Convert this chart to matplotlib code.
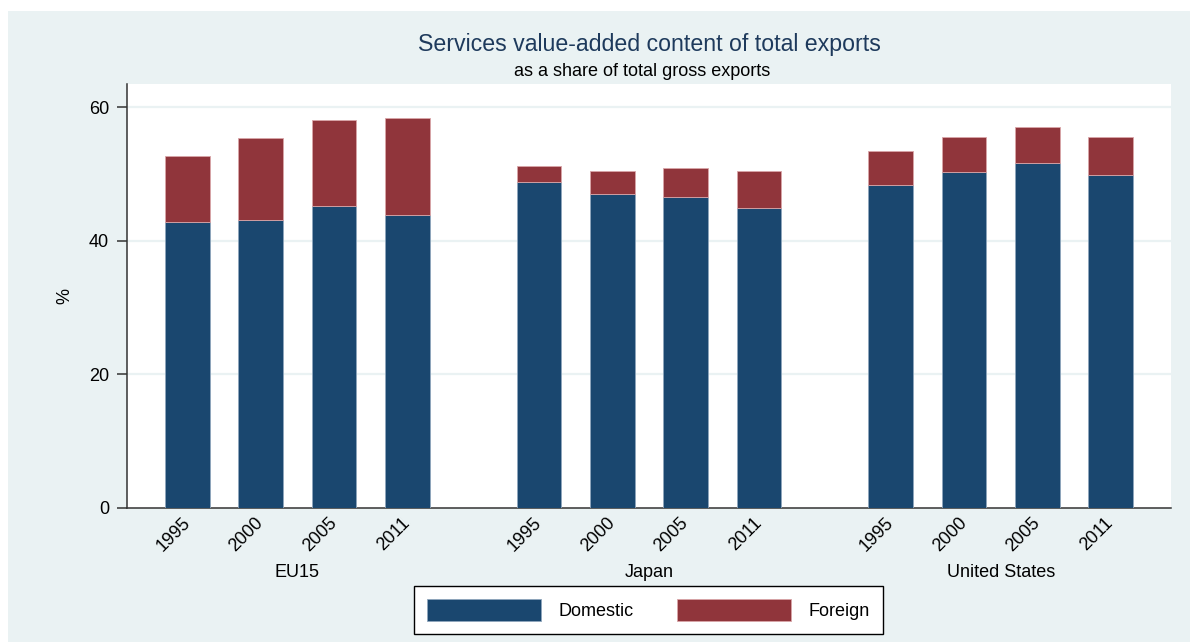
import matplotlib
matplotlib.use("Agg")
import matplotlib.pyplot as plt
from matplotlib.patches import Rectangle, Patch
import numpy as np

plt.rcParams['font.family'] = ['Liberation Sans', 'DejaVu Sans']

groups = ["EU15", "Japan", "United States"]
years = ["1995", "2000", "2005", "2011"]
domestic = [42.9, 43.2, 45.2, 43.9,
            48.8, 47.1, 46.6, 44.9,
            48.4, 50.3, 51.6, 49.8]
total = [52.7, 55.4, 58.1, 58.4,
         51.2, 50.4, 50.9, 50.4,
         53.4, 55.6, 57.0, 55.6]
foreign = [t - d for t, d in zip(total, domestic)]

NAVY = "#1a476f"
MAROON = "#90353b"
BG = "#eaf2f3"

W, H = 1190, 642
fig = plt.figure(figsize=(W / 100, H / 100), dpi=100, facecolor="white")
fig.patches.append(Rectangle((8 / W, 0), 1 - 8 / W, 1 - 11 / H, transform=fig.transFigure,
                             facecolor=BG, edgecolor="none", zorder=-10))

left, right, top, bottom = 127, 1171, 84, 508
ax = fig.add_axes([left / W, 1 - bottom / H, (right - left) / W, (bottom - top) / H])
ax.set_facecolor("white")

gstep = 4.8
pos = []
for g in range(len(groups)):
    for i in range(len(years)):
        pos.append(g * gstep + i)
pos = np.array(pos)

bw = 0.61
ax.bar(pos, domestic, width=bw, color=NAVY, edgecolor="#8fa6bd", linewidth=0.6, zorder=3)
ax.bar(pos, foreign, bottom=domestic, width=bw, color=MAROON, edgecolor="#d9a5a8", linewidth=0.6, zorder=3)

ax.set_xlim(-0.825, pos[-1] + 0.825)
ax.set_ylim(0, 63.5)
ax.set_yticks([0, 20, 40, 60])
ax.set_yticklabels(["0", "20", "40", "60"], fontsize=13)
ax.tick_params(axis="y", direction="out", length=7, width=1.1, color="#333333", pad=6)
for y in [20, 40, 60]:
    ax.axhline(y, color=BG, linewidth=1.6, zorder=1)

ax.set_xticks(pos)
ax.set_xticklabels(years * len(groups), rotation=45, ha="right", va="center",
                   rotation_mode="anchor", fontsize=13)
ax.tick_params(axis="x", length=0, pad=9)

for s in ["top", "right"]:
    ax.spines[s].set_visible(False)
for s in ["left", "bottom"]:
    ax.spines[s].set_color("#333333")
    ax.spines[s].set_linewidth(1.1)

ax.set_ylabel("%", fontsize=13)
ax.yaxis.set_label_coords((73 - left) / (right - left), 0.5)

for g, name in enumerate(groups):
    ax.text(g * gstep + 1.5, -0.151, name, transform=ax.get_xaxis_transform(),
            ha="center", va="center", fontsize=13)

fig.text(649 / W, 1 - 45 / H, "Services value-added content of total exports",
         ha="center", va="center", fontsize=16.7, color="#1e3a5c")
fig.text(642 / W, 1 - 71 / H, "as a share of total gross exports",
         ha="center", va="center", fontsize=13, color="black")

handles = [Patch(facecolor=NAVY, edgecolor="#8fa6bd", linewidth=0.6),
           Patch(facecolor=MAROON, edgecolor="#d9a5a8", linewidth=0.6)]
leg = fig.legend(handles, ["Domestic", "Foreign"], loc="center",
                 bbox_to_anchor=(648.5 / W, 1 - 610 / H), ncol=2, fontsize=13,
                 handlelength=6.3, handleheight=1.5, handletextpad=1.0,
                 columnspacing=2.4, borderpad=0.7, fancybox=False, frameon=True)
leg.get_frame().set_edgecolor("black")
leg.get_frame().set_linewidth(1.0)
leg.get_frame().set_facecolor("white")
leg.get_frame().set_alpha(1)

fig.savefig("out.png", dpi=100, facecolor="white")
